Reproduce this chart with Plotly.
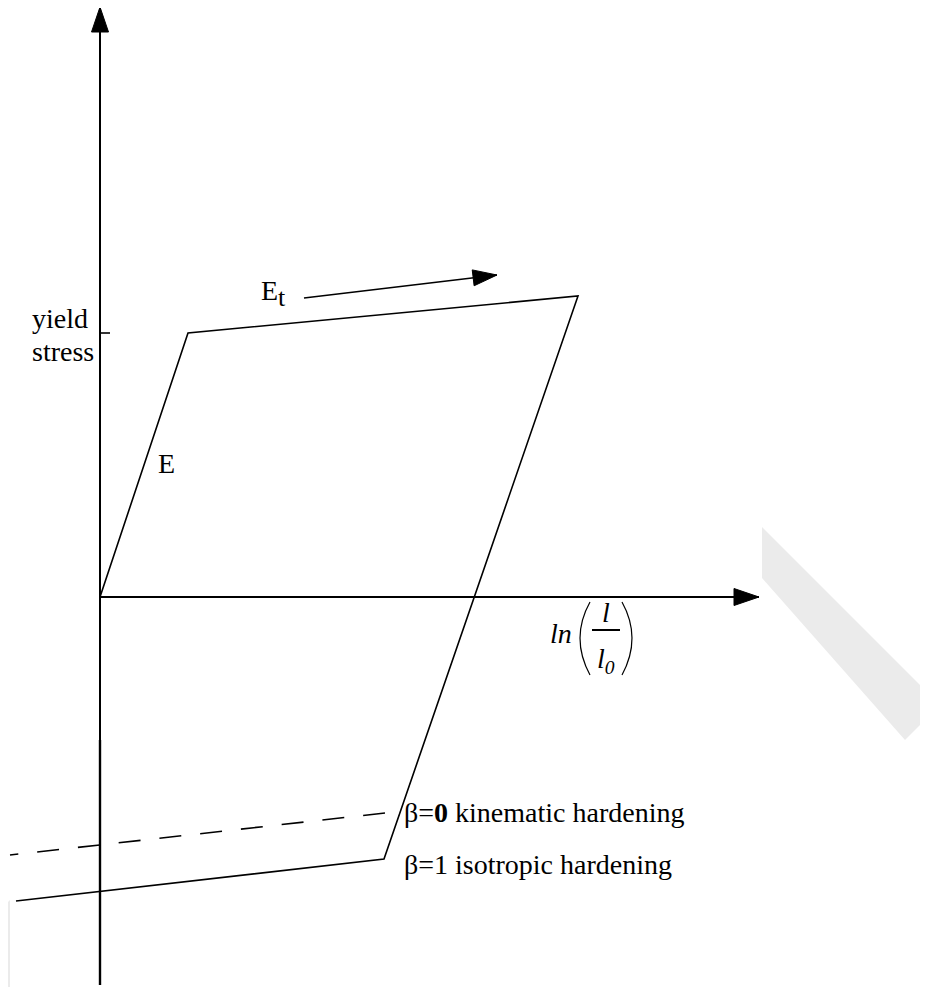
import plotly.graph_objects as go

# Schematic stress / log-strain loop, origin at the axis crossing
strain_loop = [0, 88, 478, 284, -84]
stress_loop = [0, 264, 301, -262, -304]

# beta = 0 reverse yield (kinematic hardening), dashed
strain_kinematic = [285, -90]
stress_kinematic = [-216, -258]

yield_stress = stress_loop[1]

# axes extents
x_axis_end = 659
y_axis_top = 590
y_axis_bottom = -388
y_axis_thick_from = -143  # lower part of the stress axis is drawn heavier

# E_t direction arrow
et_arrow_x = [204, 397]
et_arrow_y = [299, 322]

FONT = "Liberation Serif"
W, H = 928, 987
OX, OY = 100, 597  # pixel position of the origin
PAD = 8  # page body margin in the browser


def px(x, y):
    # page pixel -> data coords
    return x - OX, OY - y


def arrowhead(x0, y0, x1, y1, length=25, half=8.5):
    dx, dy = x1 - x0, y1 - y0
    n = (dx ** 2 + dy ** 2) ** 0.5
    ux, uy = dx / n, dy / n
    bx, by = x1 - ux * length, y1 - uy * length
    return ([x1, bx - uy * half, bx + uy * half, x1],
            [y1, by + ux * half, by - ux * half, y1])


fig = go.Figure()

line = dict(color="black", width=1.6)
axis_line = dict(color="black", width=2)

# axes
fig.add_trace(go.Scatter(x=[0, 0], y=[y_axis_bottom, y_axis_top], mode="lines", line=axis_line))
fig.add_trace(go.Scatter(x=[0, 0], y=[y_axis_bottom, y_axis_thick_from], mode="lines",
                         line=dict(color="black", width=2.4)))
fig.add_trace(go.Scatter(x=[0, x_axis_end], y=[0, 0], mode="lines", line=axis_line))
for hx, hy in [arrowhead(0, 0, 0, y_axis_top), arrowhead(0, 0, x_axis_end, 0)]:
    fig.add_trace(go.Scatter(x=hx, y=hy, mode="lines", fill="toself",
                             fillcolor="black", line=dict(color="black", width=1)))

# yield stress tick
fig.add_trace(go.Scatter(x=[0, 10], y=[yield_stress, yield_stress], mode="lines", line=line))

# loop
fig.add_trace(go.Scatter(x=strain_loop, y=stress_loop, mode="lines", line=line))
fig.add_trace(go.Scatter(x=strain_kinematic, y=stress_kinematic, mode="lines",
                         line=dict(color="black", width=1.6, dash="22px,19px")))

# E_t arrow
fig.add_trace(go.Scatter(x=et_arrow_x, y=et_arrow_y, mode="lines", line=dict(color="black", width=1.6)))
hx, hy = arrowhead(et_arrow_x[0], et_arrow_y[0], et_arrow_x[1], et_arrow_y[1], length=24, half=8)
fig.add_trace(go.Scatter(x=hx, y=hy, mode="lines", fill="toself",
                         fillcolor="black", line=dict(color="black", width=1)))

shapes = []


def path(points, close=True):
    pts = [px(*p) for p in points]
    s = "M " + " L ".join(f"{a},{b}" for a, b in pts)
    return s + (" Z" if close else "")


# faint watermark stripes
shapes.append(dict(type="path", xref="x", yref="y", layer="below", line=dict(width=0),
                   fillcolor="#ebebeb",
                   path=path([(762, 527), (940, 705), (905, 740), (762, 578)])))
shapes.append(dict(type="path", xref="x", yref="y", layer="below", line=dict(width=0),
                   fillcolor="#ebebeb",
                   path=path([(0, 910), (10, 900), (10, 995), (0, 995)])))

# ln(l/l0) parentheses and fraction bar
for a, c, b in [((590, 602), (570, 638), (590, 675)), ((622, 602), (642, 638), (622, 675))]:
    (x0, y0), (xc, yc), (x1, y1) = px(*a), px(*c), px(*b)
    shapes.append(dict(type="path", xref="x", yref="y", line=dict(color="black", width=1.2),
                       path=f"M {x0},{y0} Q {xc},{yc} {x1},{y1}"))
bx0, by0 = px(592, 630)
bx1, _ = px(620, 630)
shapes.append(dict(type="line", xref="x", yref="y", x0=bx0, x1=bx1, y0=by0, y1=by0,
                   line=dict(color="black", width=2)))

annotations = []


def label(text, x, y, size=28, xanchor="center"):
    ax, ay = px(x, y)
    annotations.append(dict(text=text, x=ax, y=ay, xref="x", yref="y", showarrow=False,
                            xanchor=xanchor, yanchor="middle",
                            font=dict(family=FONT, size=size, color="black")))


label("yield", 30, 318, xanchor="left")
label("stress", 30, 351, xanchor="left")
label("E", 166, 463)
label("E<sub><span style='font-size:26px'>t</span></sub>", 259, 293, xanchor="left")
label("<i>ln</i>", 548, 633, xanchor="left")
label("<i>l</i>", 606, 612)
label("<i>l</i><sub><i>0</i></sub>", 606, 660)
label("β=<b>0</b> kinematic hardening", 402, 812, xanchor="left")
label("β=1 isotropic hardening", 402, 864, xanchor="left")

fig.update_layout(
    width=W, height=H,
    margin=dict(l=0, r=0, t=0, b=0),
    paper_bgcolor="white", plot_bgcolor="white",
    showlegend=False,
    xaxis=dict(range=[PAD - OX, PAD + W - OX], visible=False, fixedrange=True),
    yaxis=dict(range=[OY - PAD - H, OY - PAD], visible=False, fixedrange=True),
    shapes=shapes,
    annotations=annotations,
)

fig.write_html("out.html")
